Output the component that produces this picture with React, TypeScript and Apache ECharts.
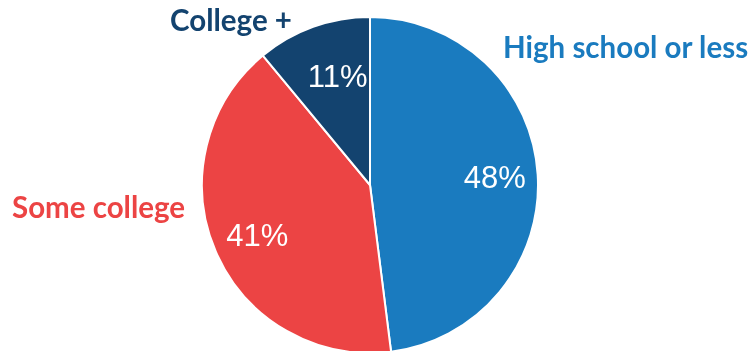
import React, { useEffect, useRef } from "react";
import * as echarts from "echarts";

const categories = ["High school or less", "Some college", "College +"];
const values = [48, 41, 11];
const colors = ["#1a7bbf", "#ec4444", "#13436f"];
const pctOffsets = [[0, 0], [2, 1], [10, 9]];

export default function App() {
  const ref = useRef<HTMLDivElement>(null);
  useEffect(() => {
    if (!ref.current) return;
    const chart = echarts.init(ref.current, null, { renderer: "svg" });
    const data = categories.map((name, i) => ({ name, value: values[i], itemStyle: { color: colors[i] } }));
    const nameFont = { fontFamily: "Lato", fontWeight: "bold" as const, fontSize: 29.5 };
    chart.setOption({
      animation: false,
      series: [
        {
          type: "pie",
          center: [370, 185],
          radius: [0, 168],
          startAngle: 90,
          clockwise: true,
          silent: true,
          itemStyle: { borderColor: "#ffffff", borderWidth: 2 },
          label: { show: false },
          labelLine: { show: false },
          data,
        },
        {
          type: "pie",
          center: [370, 185],
          radius: [0, 244],
          startAngle: 90,
          clockwise: true,
          silent: true,
          itemStyle: { color: "rgba(0,0,0,0)", borderWidth: 0 },
          label: {
            show: true,
            position: "inside",
            formatter: "{c}%",
            color: "#ffffff",
            fontFamily: "'Liberation Sans', Arial, sans-serif",
            fontSize: 31,
          },
          labelLine: { show: false },
          data: categories.map((name, i) => ({ name, value: values[i], label: { offset: pctOffsets[i] } })),
        },
      ],
      graphic: [
        { type: "text", left: 503, top: 31, style: { text: categories[0], fill: colors[0], ...nameFont } },
        { type: "text", left: 12, top: 191, style: { text: categories[1], fill: colors[1], ...nameFont } },
        { type: "text", left: 170, top: 4, style: { text: categories[2], fill: colors[2], ...nameFont } },
      ],
    });
    return () => chart.dispose();
  }, []);
  return <div ref={ref} style={{ position: "fixed", left: 0, top: 0, width: 756, height: 351 }} />;
}
